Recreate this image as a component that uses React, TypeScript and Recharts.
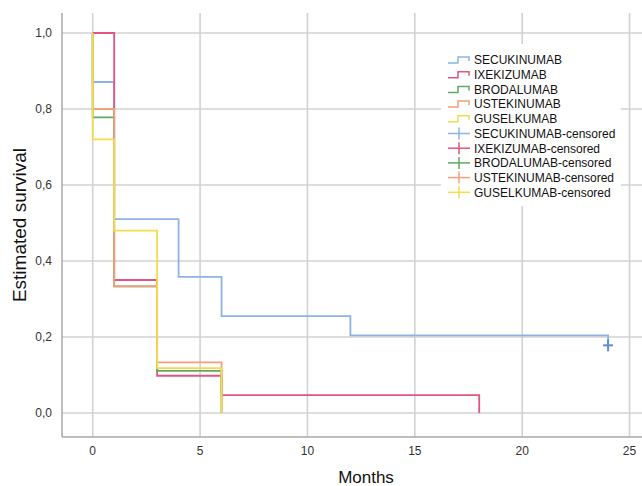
import React from 'react';
import { ComposedChart, Line, Scatter, XAxis, YAxis, ReferenceLine } from 'recharts';

const seriesNames = ['SECUKINUMAB', 'IXEKIZUMAB', 'BRODALUMAB', 'USTEKINUMAB', 'GUSELKUMAB'];
const seriesColors = ['#8cb3e4', '#e2557e', '#5fa862', '#f1a07c', '#f3dc4c'];

const secukinumab = [
  { t: 0, s: 1 }, { t: 0, s: 0.871 }, { t: 1, s: 0.51 }, { t: 4, s: 0.358 },
  { t: 6, s: 0.255 }, { t: 12, s: 0.204 }, { t: 24, s: 0.204 }, { t: 24, s: 0.178 },
];
const ixekizumab = [
  { t: 0, s: 1 }, { t: 1, s: 0.35 }, { t: 3, s: 0.098 }, { t: 6, s: 0.047 }, { t: 18, s: 0 },
];
const brodalumab = [
  { t: 0, s: 1 }, { t: 0, s: 0.778 }, { t: 1, s: 0.333 }, { t: 3, s: 0.111 }, { t: 6, s: 0 },
];
const ustekinumab = [
  { t: 0, s: 1 }, { t: 0, s: 0.8 }, { t: 1, s: 0.333 }, { t: 3, s: 0.133 }, { t: 6, s: 0 },
];
const guselkumab = [
  { t: 0, s: 1 }, { t: 0, s: 0.72 }, { t: 1, s: 0.48 }, { t: 3, s: 0.118 }, { t: 6, s: 0 },
];
const secukinumabCensored = [{ t: 24, s: 0.178 }];

const xTicks = [0, 5, 10, 15, 20, 25];
const yTicks = [0, 0.2, 0.4, 0.6, 0.8, 1.0];

const allSeries = [secukinumab, ixekizumab, brodalumab, ustekinumab, guselkumab];

const FONT = '"Liberation Sans", Arial, Helvetica, sans-serif';
const GRID = '#d2d2d2';

const CrossShape = (props: any) => {
  const { cx, cy } = props;
  return (
    <g stroke="#5b8fd6" strokeWidth={2}>
      <line x1={cx - 5} y1={cy} x2={cx + 5} y2={cy} />
      <line x1={cx} y1={cy - 6} x2={cx} y2={cy + 6} />
    </g>
  );
};

const LegendBox = () => {
  const rowH = 14.7;
  const y0 = 16;
  const rows: { name: string; color: string; censored: boolean }[] = [];
  seriesNames.forEach((n, i) => rows.push({ name: n, color: seriesColors[i], censored: false }));
  seriesNames.forEach((n, i) => rows.push({ name: n + '-censored', color: seriesColors[i], censored: true }));
  return (
    <svg width={180} height={162} style={{ position: 'absolute', left: 441, top: 44, display: 'block', background: '#ffffff' }}>
      {rows.map((r, i) => {
        const y = y0 + i * rowH;
        return (
          <g key={r.name}>
            {r.censored ? (
              <g stroke={r.color} strokeWidth={1.5}>
                <line x1={7} y1={y} x2={29} y2={y} />
                <line x1={18} y1={y - 6} x2={18} y2={y + 6} />
              </g>
            ) : (
              <path d={`M7,${y + 3} H17 V${y - 3} H28 V${y + 1}`} fill="none" stroke={r.color} strokeWidth={1.5} />
            )}
            <text x={33} y={y} dy="0.36em" fontSize={12} fontFamily={FONT} fill="#111">{r.name}</text>
          </g>
        );
      })}
    </svg>
  );
};

export default function App() {
  return (
    <div style={{ position: 'absolute', left: 0, top: 0, width: 642, height: 486, background: '#fff' }}>
      <ComposedChart width={642} height={486} margin={{ top: 13, right: 0, bottom: 0, left: 0 }}>
        <XAxis
          type="number"
          dataKey="t"
          domain={[-1.43, 25.58]}
          ticks={xTicks}
          allowDataOverflow
          height={49}
          tickLine={false}
          tickSize={6}
          tickMargin={3}
          axisLine={{ stroke: '#a8a8a8', strokeWidth: 1.5 }}
          tick={{ fontSize: 12, fill: '#333', fontFamily: FONT }}
        />
        <YAxis
          type="number"
          dataKey="s"
          domain={[-0.0632, 1.0526]}
          ticks={yTicks}
          allowDataOverflow
          width={62}
          tickLine={false}
          tickSize={6}
          tickMargin={4}
          axisLine={{ stroke: '#a8a8a8', strokeWidth: 1.5 }}
          tick={{ fontSize: 12, fill: '#333', fontFamily: FONT }}
          tickFormatter={(v: number) => v.toFixed(1).replace('.', ',')}
        />
        {xTicks.map((t) => (
          <ReferenceLine key={'vx' + t} x={t} stroke={GRID} strokeWidth={1.6} ifOverflow="extendDomain" />
        ))}
        {yTicks.map((t) => (
          <ReferenceLine key={'hy' + t} y={t} stroke={GRID} strokeWidth={1.6} />
        ))}
        {allSeries.map((d, i) => (
          <Line
            key={seriesNames[i]}
            data={d}
            dataKey="s"
            name={seriesNames[i]}
            type="stepAfter"
            stroke={seriesColors[i]}
            strokeWidth={1.8}
            dot={false}
            activeDot={false}
            isAnimationActive={false}
          />
        ))}
        <Scatter
          data={secukinumabCensored}
          dataKey="s"
          name="SECUKINUMAB-censored"
          shape={CrossShape}
          isAnimationActive={false}
        />
      </ComposedChart>
      <LegendBox />
      <div style={{ position: 'absolute', left: 20, top: 225, transform: 'translate(-50%, -50%) rotate(-90deg)', whiteSpace: 'nowrap', fontFamily: FONT, fontSize: 19, color: '#111' }}>
        Estimated survival
      </div>
      <div style={{ position: 'absolute', left: 366, top: 478, transform: 'translate(-50%, -50%)', whiteSpace: 'nowrap', fontFamily: FONT, fontSize: 17, color: '#111' }}>
        Months
      </div>
    </div>
  );
}
